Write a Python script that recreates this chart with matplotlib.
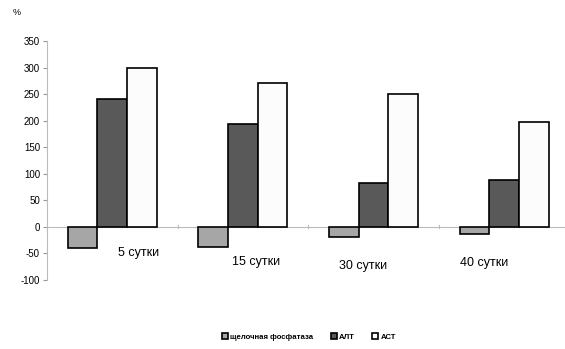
import matplotlib
matplotlib.use("Agg")
import matplotlib.pyplot as plt
import numpy as np

plt.rcParams['font.family'] = ['Liberation Sans', 'DejaVu Sans']

categories = ["5 сутки", "15 сутки", "30 сутки", "40 сутки"]
series_names = ["щелочная фосфатаза", "АЛТ", "АСТ"]
alp = [-40, -38, -19, -13]
alt = [240, 193, 82, 89]
ast = [300, 271, 251, 197]
yticks = [-100, -50, 0, 50, 100, 150, 200, 250, 300, 350]

colors = ["#a6a6a6", "#595959", "#fcfcfc"]

fig = plt.figure(figsize=(5.65, 3.49), dpi=100)
ax = fig.add_axes([0.083, 0.198, 0.925, 0.6845])

x = np.arange(len(categories))
w = 0.227
for i, (vals, c, name) in enumerate(zip([alp, alt, ast], colors, series_names)):
    ax.bar(x + (i - 1) * w, vals, w, color=c, edgecolor="black", linewidth=1.2, label=name, zorder=3)

ax.set_xlim(-0.5, 3.5)
ax.set_ylim(-100, 350)
ax.set_yticks(yticks)
ax.set_yticklabels([str(v) for v in yticks], fontsize=7)
ax.tick_params(axis='y', length=3, color="#999999", pad=2)
ax.set_xticks([])
for b in [0.5, 1.5, 2.5]:
    ax.plot([b, b], [-3, 3], color="#bbbbbb", lw=0.8, zorder=1)
ax.axhline(0, color="#bbbbbb", lw=0.8, zorder=1)
for s in ["top", "right", "bottom"]:
    ax.spines[s].set_visible(False)
ax.spines["left"].set_color("#bbbbbb")
ax.spines["left"].set_linewidth(0.8)

# category labels below bars
label_offsets = [(0.2, -49), (0.1, -66), (-0.08, -73), (-0.15, -69)]
for xi, cat, (dx, yy) in zip(x, categories, label_offsets):
    ax.text(xi + dx, yy, cat, fontsize=9, ha="center", va="center")

fig.text(0.022, 0.965, "%", fontsize=6.5, ha="left", va="center")

leg = fig.legend(loc="center", bbox_to_anchor=(0.547, 0.035), ncol=3, frameon=False,
                 handlelength=0.8, handleheight=0.8, handletextpad=0.3,
                 columnspacing=2.2, prop={'size': 5.6, 'weight': 'bold'})

fig.savefig("out.png", dpi=100)
